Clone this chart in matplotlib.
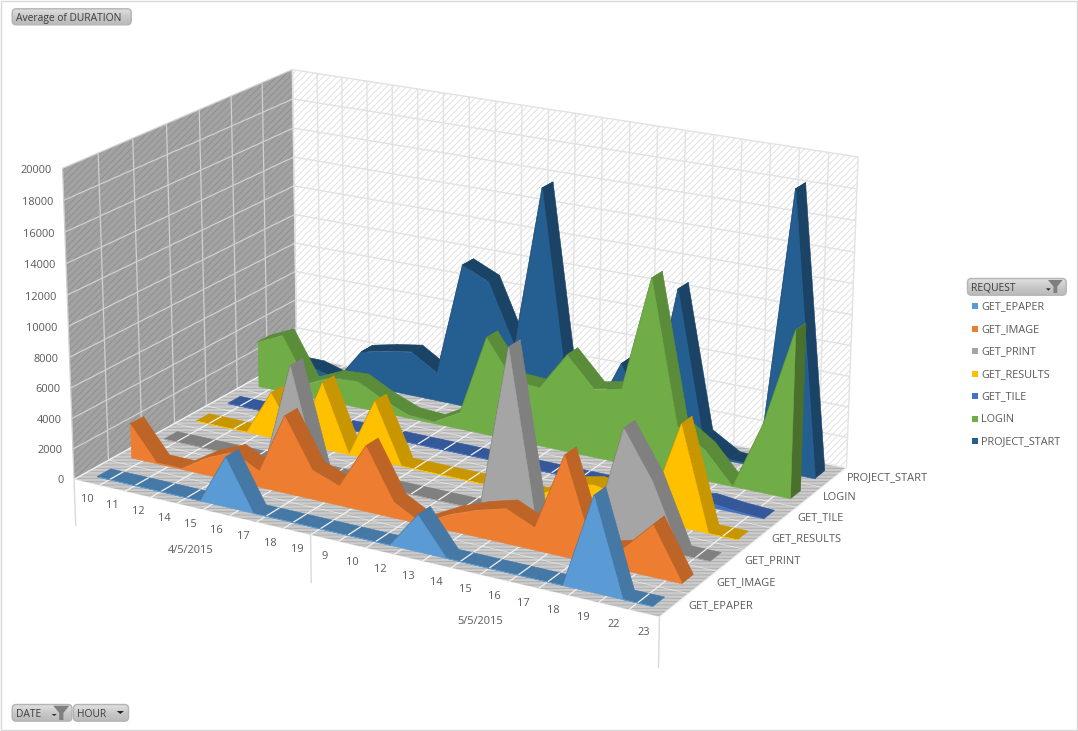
import matplotlib
matplotlib.use("Agg")
import numpy as np
import matplotlib.pyplot as plt
from matplotlib.colors import LinearSegmentedColormap
from matplotlib.patches import FancyBboxPatch, Polygon, Rectangle
from matplotlib.transforms import IdentityTransform
from mpl_toolkits.mplot3d.art3d import Poly3DCollection, Line3DCollection

W, H = 1078, 731

hours = ["10", "11", "12", "14", "15", "16", "17", "18", "19", "9", "10",
         "12", "13", "14", "15", "16", "17", "18", "19", "22", "23"]
dates = ["4/5/2015", "5/5/2015"]
date_spans = [(0, 9), (9, 21)]
requests = ["GET_EPAPER", "GET_IMAGE", "GET_PRINT", "GET_RESULTS",
            "GET_TILE", "LOGIN", "PROJECT_START"]
z_ticks = list(range(0, 20001, 2000))

get_epaper = [0, 0, 0, 0, 0, 3200, 0, 0, 0, 0, 0, 0, 2300, 0, 0, 0, 0, 0, 5900, 0, 0]
get_image = [2250, 50, 50, 1150, 1900, 1050, 5000, 1900, 1250, 4200, 1000, 50, 1000,
             1700, 2200, 1400, 6300, 800, 1300, 3200, 0]
get_print = [0, 0, 0, 0, 0, 6700, 0, 0, 0, 0, 0, 0, 0, 10700, 0, 0, 200, 7100, 4200, 0, 0]
get_results = [0, 0, 0, 3000, 100, 4400, 0, 3900, 0, 0, 0, 0, 0, 0, 1100, 1500, 1200,
               900, 6500, 0, 0]
get_tile = [0, 0, 0, 0, 0, 0, 0, 0, 0, 0, 0, 0, 0, 0, 0, 0, 0, 0, 300, 100, 0]
login = [3100, 3900, 900, 1700, 1800, 900, 200, 100, 1100, 6500, 4000, 3900, 6400,
         4500, 4900, 12400, 3200, 2000, 0, 4400, 10750]
project_start = [500, 500, 0, 2300, 2700, 3000, 1900, 9600, 8800, 4800, 15650, 2400,
                 1200, 5000, 1000, 10600, 1200, 100, 0, 18250, 0]
series = [get_epaper, get_image, get_print, get_results, get_tile, login, project_start]

front_colors = ["#5B9BD5", "#ED7D31", "#A5A5A5", "#FFC000", "#4472C4", "#70AD47", "#255E91"]
strip_colors = ["#4678A6", "#BE6427", "#808080", "#C89600", "#34589A", "#5A8C39", "#1A4366"]
cap_colors = ["#3A6288", "#9C5220", "#6A6A6A", "#A57C00", "#2B4A80", "#4A702D", "#153650"]

plt.rcParams["font.family"] = ["Open Sans", "DejaVu Sans"]
plt.rcParams["hatch.linewidth"] = 0.7

nx, ny, zmax = len(hours), len(requests), 20000

# camera fitted to the cube corners seen on the chart (world -> pixel)
world = np.array([(0, 0, 0), (1, 0, 0), (0, 1, 0), (1, 1, 0),
                  (0, 0, 1), (0, 1, 1), (1, 1, 1)], dtype=float)
pixel = np.array([(74.7, 480), (659.3, 616.7), (296, 355), (846.7, 468),
                  (62, 168), (293, 70), (858, 157)], dtype=float)
rows, rhs = [], []
for (a, b, c), (u, v) in zip(world, pixel):
    rows.append([a, b, c, 1, 0, 0, 0, 0, -u * a, -u * b, -u * c])
    rows.append([0, 0, 0, 0, a, b, c, 1, -v * a, -v * b, -v * c])
    rhs += [u, v]
p = np.linalg.lstsq(np.array(rows), np.array(rhs), rcond=None)[0]
cam = np.array([p[:4], p[4:8], [0, 1, 0, 0], [p[8], p[9], p[10], 1.0]])
cam = cam @ np.diag([1 / nx, 1 / ny, 1 / zmax, 1.0])

fig = plt.figure(figsize=(W / 100, H / 100), dpi=100)
ax = fig.add_axes([0, 0, 1, 1], projection="3d", computed_zorder=False)
ax.apply_aspect = lambda position=None: None
ax.get_proj = lambda: cam
ax.viewLim.intervalx = (0, W)
ax.viewLim.intervaly = (H, 0)
ax.set_axis_off()
screen = IdentityTransform()


def add_poly(verts, face, edge=None, z=1, hatch=None, lw=0.4):
    coll = Poly3DCollection(verts, facecolors=face, edgecolors=edge or face,
                            linewidths=lw, hatch=hatch, zorder=z)
    ax.add_collection3d(coll, autolim=False)


def add_lines(segs, color, lw, z, alpha=1):
    coll = Line3DCollection(segs, colors=color, linewidths=lw, zorder=z, alpha=alpha)
    ax.add_collection3d(coll, autolim=False)


def label3d(x, y, z, s, **kw):
    q = cam @ np.array([x, y, z, 1.0])
    fig.text(q[0] / q[3], H - q[1] / q[3], s, transform=screen, va="center",
             fontsize=7.9, color="#595959", **kw)


# walls and floor
add_poly([[(0, 0, 0), (0, ny, 0), (0, ny, zmax), (0, 0, zmax)]], "#A3A3A3", "#8F8F8F", 1, "/////", 0)
add_poly([[(0, ny, 0), (nx, ny, 0), (nx, ny, zmax), (0, ny, zmax)]], "#FFFFFF", "#E0E0E0", 1, "/////", 0)
add_poly([[(0, 0, 0), (nx, 0, 0), (nx, ny, 0), (0, ny, 0)]], "#CBCBCB", "#AEAEAE", 1, "-----", 0)

left_grid = [[(0, 0, z), (0, ny, z)] for z in z_ticks] + [[(0, y, 0), (0, y, zmax)] for y in range(ny + 1)]
back_grid = [[(0, ny, z), (nx, ny, z)] for z in z_ticks] + [[(x, ny, 0), (x, ny, zmax)] for x in range(nx + 1)]
floor_grid = [[(x, 0, 0), (x, ny, 0)] for x in range(nx + 1)]
floor_rows = [[(0, y, 0), (nx, y, 0)] for y in range(ny + 1)]
add_lines(left_grid, "#D0D0D0", 0.9, 2)
add_lines(back_grid, "#E2E2E2", 1.0, 2)
add_lines(floor_rows, "#FFFFFF", 0.5, 2, 0.6)
add_lines(floor_grid, "#F2F2F2", 0.9, 2)

# series, back row first
xs = np.arange(nx) + 0.5
for j in range(ny - 1, -1, -1):
    vals = series[j]
    y0, y1 = j + 0.3, j + 0.7
    base = 10 + (ny - j) * 4
    strips = [[(xs[i], y0, vals[i]), (xs[i + 1], y0, vals[i + 1]),
               (xs[i + 1], y1, vals[i + 1]), (xs[i], y1, vals[i])] for i in range(nx - 1)]
    add_poly(strips, strip_colors[j], z=base)
    # floor grid stays visible over the flat parts of a band
    flat = [[(k, y0, 0), (k, y1, 0)] for k in range(1, nx) if vals[k - 1] == 0 and vals[k] == 0]
    if flat:
        add_lines(flat, "#F2F2F2", 0.9, base + 1)
    if vals[-1] > 0:
        add_poly([[(xs[-1], y0, 0), (xs[-1], y1, 0), (xs[-1], y1, vals[-1]), (xs[-1], y0, vals[-1])]],
                 cap_colors[j], z=base + 1)
    outline = [(xs[0], y0, 0)] + [(xs[i], y0, vals[i]) for i in range(nx)] + [(xs[-1], y0, 0)]
    add_poly([outline], front_colors[j], z=base + 2)

# axis text
for z in z_ticks:
    label3d(-0.42, 0, z - 270, str(z), ha="right")
for i, h in enumerate(hours):
    label3d(i + 0.5, 0, -1150, h, ha="center")
for d, (a, b) in zip(dates, date_spans):
    label3d((a + b) / 2, 0, -2900, d, ha="center")
add_lines([[(k, 0, 0), (k, 0, -3100)] for k in (0, 9, 21)], "#D9D9D9", 1.0, 5)
for j, r in enumerate(requests):
    label3d(nx + 0.45, j + 0.5, 160, r, ha="left")

# frame and pivot buttons, in screen pixels
button_cmap = LinearSegmentedColormap.from_list("button", ["#E2E2E2", "#C8C8C8", "#B9B9B9"])


def to_screen(x, y):
    return x, H - y


def button(x0, y0, x1, y1, label, funnel=None, arrow=None, size=7.4):
    bx = fig.add_axes([x0 / W, 1 - y1 / H, (x1 - x0) / W, (y1 - y0) / H])
    bx.set_axis_off()
    im = bx.imshow(np.linspace(0, 1, 32)[:, None], cmap=button_cmap, aspect="auto",
                   extent=(x0, x1, y1, y0))
    box = FancyBboxPatch((x0 + 0.5, y0 + 0.5), x1 - x0 - 1, y1 - y0 - 1,
                         boxstyle="round,pad=0,rounding_size=4", facecolor="none",
                         edgecolor="#B4B4B4", linewidth=1, clip_on=False)
    bx.add_patch(box)
    im.set_clip_path(box)
    bx.set_xlim(x0, x1)
    bx.set_ylim(y1, y0)
    fig.text(x0 + 4.5, H - (y0 + y1) / 2 - 1.5, label, transform=screen, ha="left", va="center",
             fontsize=size, color="#3C3C3C")
    if funnel:
        fx0, fy0, fx1, fy1 = funnel
        mid = (fx0 + fx1) / 2
        stem = (fx1 - fx0) * 0.13
        pts = [(fx0, fy0), (fx1, fy0), (mid + stem, fy0 + (fy1 - fy0) * 0.5), (mid + stem, fy1),
               (mid - stem, fy1), (mid - stem, fy0 + (fy1 - fy0) * 0.5)]
        fig.add_artist(Polygon([to_screen(*q) for q in pts], transform=screen,
                               facecolor="#7F7F7F", edgecolor="none"))
    if arrow:
        a0, b0, a1, b1 = arrow
        pts = [(a0, b0), (a1, b0), ((a0 + a1) / 2, b1)]
        fig.add_artist(Polygon([to_screen(*q) for q in pts], transform=screen,
                               facecolor="#262626", edgecolor="none"))


fig.add_artist(Rectangle((0.5, 1.5), W - 2, H - 2, transform=screen, facecolor="none",
                         edgecolor="#D9D9D9", linewidth=1))
button(11.7, 8.3, 131.7, 25.3, "Average of DURATION")
button(967, 278, 1066.7, 295.7, "REQUEST", (1048, 280, 1062.7, 293), (1046, 288.3, 1050.7, 290.7))
button(11.7, 704, 72.5, 721.7, "DATE", (53.3, 705.7, 69.3, 720), (51.7, 714, 56.7, 716))
button(73, 704, 129, 721.7, "HOUR", None, (116.7, 711, 124, 714))

legend_y = [306, 329, 351, 374, 396, 419, 441]
for name, color, y in zip(requests, front_colors, legend_y):
    fig.add_artist(Rectangle(to_screen(972, y + 3), 6, 6, transform=screen, facecolor=color, edgecolor="none"))
    fig.text(981, H - y - 1, name, transform=screen, ha="left", va="center", fontsize=7.8, color="#595959")

fig.savefig("out.png", dpi=100)
